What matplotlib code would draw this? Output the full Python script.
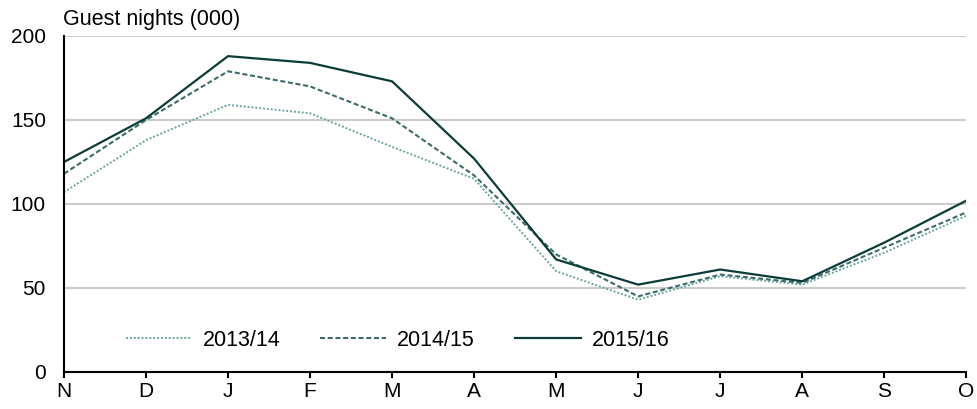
import numpy as np
import matplotlib
matplotlib.use("Agg")
import matplotlib.pyplot as plt

plt.rcParams['font.family'] = ['Liberation Sans', 'DejaVu Sans']

# months Nov..Oct
months = ['N', 'D', 'J', 'F', 'M', 'A', 'M', 'J', 'J', 'A', 'S', 'O']
y2013 = [107, 138, 159, 154, 134, 115, 60, 43, 57, 52, 71, 93]
y2014 = [118, 150, 179, 170, 151, 117, 70, 45, 58, 53, 74, 95]
y2015 = [125, 151, 188, 184, 173, 127, 67, 52, 61, 54, 77, 102]

fig = plt.figure(figsize=(9.78, 4.09), dpi=100)
ax = fig.add_axes([0.0654, 0.0905, 0.9226, 0.8215])

x = np.arange(len(months))
ax.plot(x, y2013, color='#6aa5a1', lw=1.4, ls=(0, (1, 1)), label='2013/14')
ax.plot(x, y2014, color='#3b6c69', lw=1.5, ls=(0, (2.4, 1.3)), label='2014/15')
ax.plot(x, y2015, color='#0c3c39', lw=1.6, ls='-', label='2015/16')

ax.set_xlim(0, 11)
ax.set_ylim(0, 200)
ax.set_yticks([0, 50, 100, 150, 200])
ax.set_xticks(x)
ax.set_xticklabels(months)
ax.yaxis.grid(True, color='#cccccc', lw=1.5)
ax.set_axisbelow(True)
for s in ['top', 'right']:
    ax.spines[s].set_visible(False)
ax.spines['left'].set_linewidth(1.5)
ax.spines['bottom'].set_linewidth(1.5)
ax.tick_params(axis='y', length=0, pad=13, labelsize=15)
ax.tick_params(axis='x', length=4, width=1.5, direction='out', pad=3, labelsize=15)

ax.legend(loc='center left', bbox_to_anchor=(0.047, 0.095), ncol=3, frameon=False,
          fontsize=15.5, handlelength=3.07, handletextpad=0.5, columnspacing=1.86)

fig.text(63 / 978, 1 - 20 / 409, 'Guest nights (000)', fontsize=15.5, va='center', ha='left')

fig.savefig('out.png', dpi=100)
